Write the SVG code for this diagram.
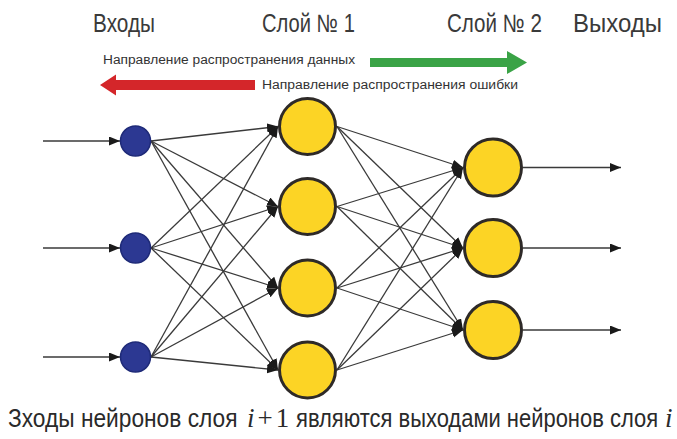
<svg xmlns="http://www.w3.org/2000/svg" width="677" height="439" viewBox="0 0 677 439">
<style>
.lbl{font-family:"Liberation Sans",Arial,sans-serif;font-size:25px;fill:#3a3a3a}
.dir{font-family:"Liberation Sans",Arial,sans-serif;font-size:12.5px;fill:#333}
.cap{font-family:"Liberation Sans",Arial,sans-serif;font-size:25px;fill:#2a2a2a}
.math{font-family:"Liberation Serif","Times New Roman",serif;font-size:27px;fill:#2a2a2a}
.edge{stroke:#3a3a3a;stroke-width:1.3;fill:none}
.in{fill:#2c3892;stroke:#1e2a78;stroke-width:1.5}
.hid{fill:#fcd425;stroke:#2e2a28;stroke-width:3}
</style>
<defs>
<marker id="ah" markerUnits="userSpaceOnUse" markerWidth="12" markerHeight="10" refX="11" refY="4.5" orient="auto">
<path d="M0,0 L11,4.5 L0,9 z" fill="#1a1a1a"/>
</marker>
</defs>
<rect width="677" height="439" fill="#ffffff"/>

<g id="labels">
<text class="lbl" x="93" y="32" textLength="62" lengthAdjust="spacingAndGlyphs">Входы</text>
<text class="lbl" x="262" y="32" textLength="93" lengthAdjust="spacingAndGlyphs">Слой № 1</text>
<text class="lbl" x="447" y="32" textLength="95" lengthAdjust="spacingAndGlyphs">Слой № 2</text>
<text class="lbl" x="573" y="32" textLength="89" lengthAdjust="spacingAndGlyphs">Выходы</text>
</g>

<g id="direction">
<text class="dir" x="103" y="64" textLength="252" lengthAdjust="spacingAndGlyphs">Направление распространения данных</text>
<path d="M370,58 H507 V51 L527,62.5 L507,74 V67 H370 z" fill="#3aa346"/>
<path d="M255,80 H116 V74.5 L100,85 L116,95.5 V90 H255 z" fill="#d4262a"/>
<text class="dir" x="262" y="89" textLength="256" lengthAdjust="spacingAndGlyphs">Направление распространения ошибки</text>
</g>

<g id="connectors">
<line class="edge" x1="43" y1="141" x2="120" y2="141" marker-end="url(#ah)"/>
<line class="edge" x1="43" y1="248" x2="120" y2="248" marker-end="url(#ah)"/>
<line class="edge" x1="43" y1="357" x2="120" y2="357" marker-end="url(#ah)"/>

<line class="edge" x1="151" y1="141" x2="278" y2="126.5" marker-end="url(#ah)"/>
<line class="edge" x1="151" y1="141" x2="278" y2="206.5" marker-end="url(#ah)"/>
<line class="edge" x1="151" y1="141" x2="278" y2="288" marker-end="url(#ah)"/>
<line class="edge" x1="151" y1="141" x2="278" y2="370" marker-end="url(#ah)"/>
<line class="edge" x1="151" y1="248" x2="278" y2="126.5" marker-end="url(#ah)"/>
<line class="edge" x1="151" y1="248" x2="278" y2="206.5" marker-end="url(#ah)"/>
<line class="edge" x1="151" y1="248" x2="278" y2="288" marker-end="url(#ah)"/>
<line class="edge" x1="151" y1="248" x2="278" y2="370" marker-end="url(#ah)"/>
<line class="edge" x1="151" y1="357" x2="278" y2="126.5" marker-end="url(#ah)"/>
<line class="edge" x1="151" y1="357" x2="278" y2="206.5" marker-end="url(#ah)"/>
<line class="edge" x1="151" y1="357" x2="278" y2="288" marker-end="url(#ah)"/>
<line class="edge" x1="151" y1="357" x2="278" y2="370" marker-end="url(#ah)"/>

<line class="edge" x1="337" y1="126.5" x2="463" y2="167.5" marker-end="url(#ah)"/>
<line class="edge" x1="337" y1="126.5" x2="463" y2="248" marker-end="url(#ah)"/>
<line class="edge" x1="337" y1="126.5" x2="463" y2="330" marker-end="url(#ah)"/>
<line class="edge" x1="337" y1="206.5" x2="463" y2="167.5" marker-end="url(#ah)"/>
<line class="edge" x1="337" y1="206.5" x2="463" y2="248" marker-end="url(#ah)"/>
<line class="edge" x1="337" y1="206.5" x2="463" y2="330" marker-end="url(#ah)"/>
<line class="edge" x1="337" y1="288" x2="463" y2="167.5" marker-end="url(#ah)"/>
<line class="edge" x1="337" y1="288" x2="463" y2="248" marker-end="url(#ah)"/>
<line class="edge" x1="337" y1="288" x2="463" y2="330" marker-end="url(#ah)"/>
<line class="edge" x1="337" y1="370" x2="463" y2="167.5" marker-end="url(#ah)"/>
<line class="edge" x1="337" y1="370" x2="463" y2="248" marker-end="url(#ah)"/>
<line class="edge" x1="337" y1="370" x2="463" y2="330" marker-end="url(#ah)"/>

<line class="edge" x1="523" y1="167.5" x2="621" y2="167.5" marker-end="url(#ah)"/>
<line class="edge" x1="523" y1="248" x2="621" y2="248" marker-end="url(#ah)"/>
<line class="edge" x1="523" y1="330" x2="621" y2="330" marker-end="url(#ah)"/>
</g>

<g id="in1"><circle class="in" cx="135.5" cy="141" r="15"/></g>
<g id="in2"><circle class="in" cx="135.5" cy="248" r="15"/></g>
<g id="in3"><circle class="in" cx="135.5" cy="357" r="15"/></g>

<g id="h1"><circle class="hid" cx="307.5" cy="126.5" r="28"/></g>
<g id="h2"><circle class="hid" cx="307.5" cy="206.5" r="28"/></g>
<g id="h3"><circle class="hid" cx="307.5" cy="288" r="28"/></g>
<g id="h4"><circle class="hid" cx="307.5" cy="370" r="28"/></g>

<g id="o1"><circle class="hid" cx="493" cy="167.5" r="28.5"/></g>
<g id="o2"><circle class="hid" cx="493" cy="248" r="28.5"/></g>
<g id="o3"><circle class="hid" cx="493" cy="330" r="28.5"/></g>

<g id="caption">
<text class="cap" transform="translate(8,427) scale(0.9,1)" x="0" y="0" textLength="255" lengthAdjust="spacingAndGlyphs">Зходы нейронов слоя</text>
<text class="math" x="247" y="427"><tspan font-style="italic">i</tspan><tspan dx="3">+</tspan><tspan dx="3">1</tspan></text>
<text class="cap" transform="translate(296,427) scale(0.86,1)" x="0" y="0" textLength="421" lengthAdjust="spacingAndGlyphs">являются выходами нейронов слоя</text>
<text class="math" x="665" y="427" font-style="italic">i</text>
</g>
</svg>
